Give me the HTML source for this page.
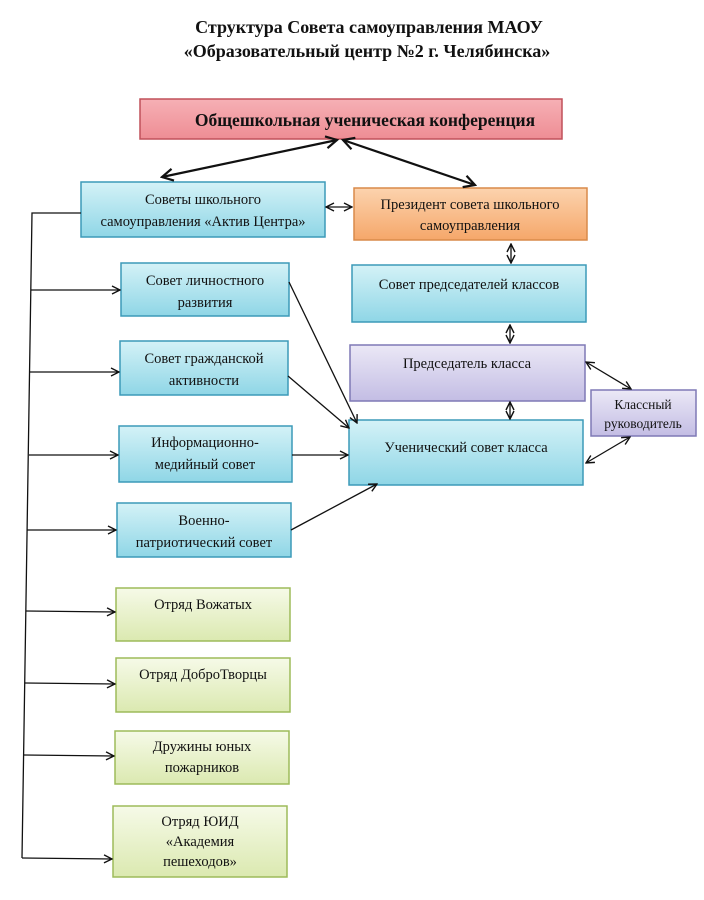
<!DOCTYPE html>
<html><head><meta charset="utf-8"><style>
body{margin:0;background:#fff;}
svg{display:block;font-family:"Liberation Serif",serif;}
</style></head><body>
<svg width="704" height="900" viewBox="0 0 704 900" xmlns="http://www.w3.org/2000/svg">
<defs>
<linearGradient id="cy" x1="0" y1="0" x2="0" y2="1"><stop offset="0" stop-color="#d4f2f7"/><stop offset="1" stop-color="#8fd6e6"/></linearGradient>
<linearGradient id="pk" x1="0" y1="0" x2="0" y2="1"><stop offset="0" stop-color="#f6b0b5"/><stop offset="1" stop-color="#ee8d94"/></linearGradient>
<linearGradient id="or" x1="0" y1="0" x2="0" y2="1"><stop offset="0" stop-color="#fcd3ae"/><stop offset="1" stop-color="#f5a76a"/></linearGradient>
<linearGradient id="lv" x1="0" y1="0" x2="0" y2="1"><stop offset="0" stop-color="#ebe8f6"/><stop offset="1" stop-color="#c3bde4"/></linearGradient>
<linearGradient id="gr" x1="0" y1="0" x2="0" y2="1"><stop offset="0" stop-color="#f6fae8"/><stop offset="1" stop-color="#dbe9b0"/></linearGradient>
<marker id="a" markerWidth="10" markerHeight="10" refX="9" refY="5" orient="auto-start-reverse" markerUnits="userSpaceOnUse"><path d="M1,1 L9,5 L1,9" fill="none" stroke="#111" stroke-width="1.4"/></marker>
<marker id="b" markerWidth="14" markerHeight="14" refX="12" refY="7" orient="auto-start-reverse" markerUnits="userSpaceOnUse"><path d="M1,1 L12,7 L1,13" fill="none" stroke="#111" stroke-width="2.2"/></marker>
</defs>
<g font-weight="bold" font-size="18" text-anchor="middle" fill="#111">
<text x="369" y="33">Структура Совета самоуправления МАОУ</text>
<text x="367" y="57">«Образовательный центр №2  г. Челябинска»</text>
</g>
<g stroke-width="1.5">
<rect x="140" y="99" width="422" height="40" fill="url(#pk)" stroke="#c0505a"/>
<rect x="81" y="182" width="244" height="55" fill="url(#cy)" stroke="#3c9ab8"/>
<rect x="354" y="188" width="233" height="52" fill="url(#or)" stroke="#d98a4a"/>
<rect x="121" y="263" width="168" height="53" fill="url(#cy)" stroke="#3c9ab8"/>
<rect x="352" y="265" width="234" height="57" fill="url(#cy)" stroke="#3c9ab8"/>
<rect x="120" y="341" width="168" height="54" fill="url(#cy)" stroke="#3c9ab8"/>
<rect x="350" y="345" width="235" height="56" fill="url(#lv)" stroke="#7f79b5"/>
<rect x="591" y="390" width="105" height="46" fill="url(#lv)" stroke="#7f79b5"/>
<rect x="119" y="426" width="173" height="56" fill="url(#cy)" stroke="#3c9ab8"/>
<rect x="349" y="420" width="234" height="65" fill="url(#cy)" stroke="#3c9ab8"/>
<rect x="117" y="503" width="174" height="54" fill="url(#cy)" stroke="#3c9ab8"/>
<rect x="116" y="588" width="174" height="53" fill="url(#gr)" stroke="#9dbb5a"/>
<rect x="116" y="658" width="174" height="54" fill="url(#gr)" stroke="#9dbb5a"/>
<rect x="115" y="731" width="174" height="53" fill="url(#gr)" stroke="#9dbb5a"/>
<rect x="113" y="806" width="174" height="71" fill="url(#gr)" stroke="#9dbb5a"/>
</g>
<g stroke="#111" stroke-width="1.3" fill="none">
<line x1="337" y1="140" x2="162" y2="177" stroke-width="2.2" marker-start="url(#b)" marker-end="url(#b)"/>
<line x1="343" y1="140" x2="475" y2="185" stroke-width="2.2" marker-start="url(#b)" marker-end="url(#b)"/>
<line x1="326" y1="207" x2="352" y2="207" marker-start="url(#a)" marker-end="url(#a)"/>
<line x1="511" y1="244" x2="511" y2="263" marker-start="url(#a)" marker-end="url(#a)"/>
<line x1="510" y1="325" x2="510" y2="343" marker-start="url(#a)" marker-end="url(#a)"/>
<line x1="510" y1="402" x2="510" y2="419" marker-start="url(#a)" marker-end="url(#a)"/>
<line x1="586" y1="362" x2="631" y2="389" marker-start="url(#a)" marker-end="url(#a)"/>
<line x1="586" y1="463" x2="630" y2="437" marker-start="url(#a)" marker-end="url(#a)"/>
<line x1="289" y1="282" x2="357" y2="423" marker-end="url(#a)"/>
<line x1="288" y1="376" x2="349" y2="428" marker-end="url(#a)"/>
<line x1="292" y1="455" x2="348" y2="455" marker-end="url(#a)"/>
<line x1="291" y1="530" x2="377" y2="484" marker-end="url(#a)"/>
<polyline points="81,213 32,213 22,858"/>
<line x1="31" y1="290" x2="120" y2="290" marker-end="url(#a)"/>
<line x1="30" y1="372" x2="119" y2="372" marker-end="url(#a)"/>
<line x1="29" y1="455" x2="118" y2="455" marker-end="url(#a)"/>
<line x1="27" y1="530" x2="116" y2="530" marker-end="url(#a)"/>
<line x1="26" y1="611" x2="115" y2="612" marker-end="url(#a)"/>
<line x1="25" y1="683" x2="115" y2="684" marker-end="url(#a)"/>
<line x1="24" y1="755" x2="114" y2="756" marker-end="url(#a)"/>
<line x1="22" y1="858" x2="112" y2="859" marker-end="url(#a)"/>
</g>
<g font-size="14.5" text-anchor="middle" fill="#111">
<text x="365" y="126" font-weight="bold" font-size="17.5">Общешкольная ученическая конференция</text>
<text x="203" y="204">Советы школьного</text>
<text x="203" y="226">самоуправления «Актив Центра»</text>
<text x="470" y="209">Президент совета школьного</text>
<text x="470" y="230">самоуправления</text>
<text x="205" y="285">Совет личностного</text>
<text x="205" y="307">развития</text>
<text x="469" y="289">Совет председателей классов</text>
<text x="204" y="363">Совет гражданской</text>
<text x="204" y="385">активности</text>
<text x="467" y="368">Председатель класса</text>
<text x="643" y="409" font-size="13.5">Классный</text>
<text x="643" y="428" font-size="13.5">руководитель</text>
<text x="205" y="447">Информационно-</text>
<text x="205" y="469">медийный совет</text>
<text x="466" y="452">Ученический совет класса</text>
<text x="204" y="525">Военно-</text>
<text x="204" y="547">патриотический совет</text>
<text x="203" y="609">Отряд Вожатых</text>
<text x="203" y="679">Отряд ДоброТворцы</text>
<text x="202" y="751">Дружины юных</text>
<text x="202" y="772">пожарников</text>
<text x="200" y="826">Отряд ЮИД</text>
<text x="200" y="846">«Академия</text>
<text x="200" y="866">пешеходов»</text>
</g>
</svg>
</body></html>
